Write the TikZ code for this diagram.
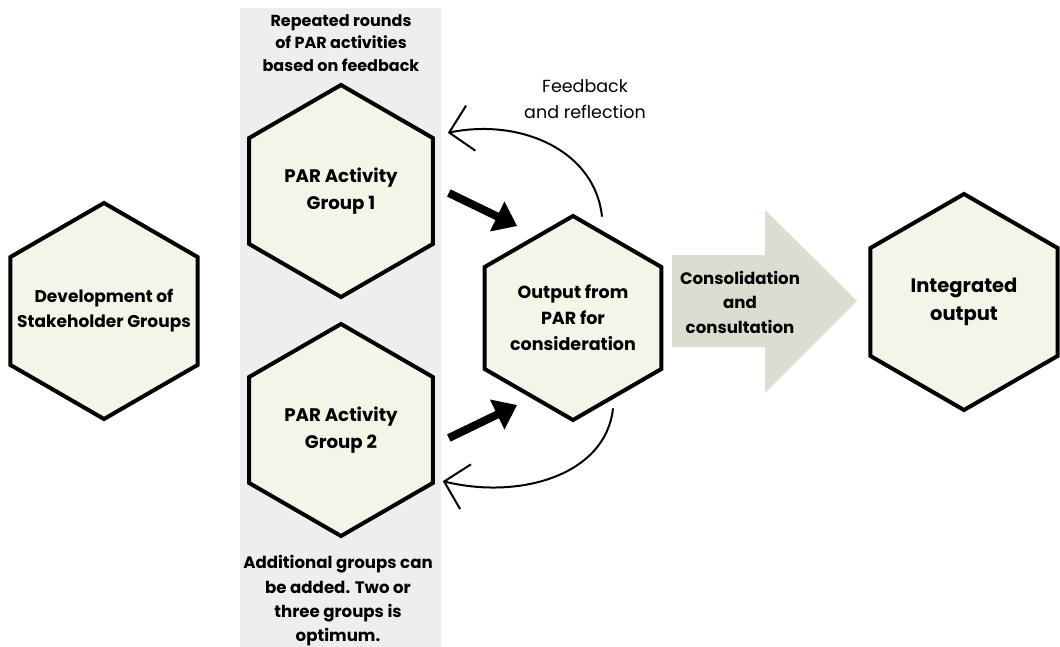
\documentclass[tikz,border=0pt]{standalone}
\usepackage{fontspec}
\setmainfont{Poppins}
\usetikzlibrary{shapes.geometric,arrows.meta,calc}
\definecolor{hexfill}{HTML}{F4F4E9}
\definecolor{panelgray}{HTML}{EEEEEE}
\definecolor{consolfill}{HTML}{DCDCD0}
\tikzset{
  hexbox/.style={regular polygon, regular polygon sides=6, shape border rotate=30,
    draw, line width=4pt, fill=hexfill, inner sep=-60pt, align=center,
    font=\bfseries\fontsize{18}{26}\selectfont},
  fatarrow/.style={line width=8pt, -{Triangle[length=22pt,width=32pt]}},
  fback/.style={line width=2pt, -{Straight Barb[length=22pt,width=46pt,line width=2pt]}},
  notebox/.style={align=center, font=\bfseries\fontsize{16}{22.5}\selectfont}
}
\begin{document}
\begin{tikzpicture}[x=1pt, y=-1pt]
    \useasboundingbox (0,0) rectangle (1060,647);
    \fill[panelgray] (240,8) rectangle (441,647);
    % hexagons
    \node[hexbox, minimum size=216pt, font=\bfseries\fontsize{17}{25}\selectfont] (dev) at (104,311) {Development of\\Stakeholder Groups};
    \node[hexbox, minimum size=212pt, font=\bfseries\fontsize{18.2}{27}\selectfont] (par1) at (341,191) {PAR Activity\\Group 1};
    \node[hexbox, minimum size=212pt, font=\bfseries\fontsize{18.2}{27}\selectfont] (par2) at (341,430) {PAR Activity\\Group 2};
    \node[hexbox, minimum size=204pt, font=\bfseries\fontsize{17.5}{26}\selectfont] (out) at (573,318) {Output from\\PAR for\\consideration};
    \node[hexbox, minimum size=216pt, font=\bfseries\fontsize{19.5}{28}\selectfont] (integ) at (964,302) {Integrated\\output};
    % panel notes
    \node[notebox] (rounds) at (341,43) {Repeated rounds\\of PAR activities\\based on feedback};
    \node[notebox, font=\bfseries\fontsize{16.6}{24.3}\selectfont] (extra) at (338,601) {Additional groups can\\be added. Two or\\three groups is\\optimum.};
    % consolidation arrow
    \fill[consolfill] (672,255) -- (765,255) -- (765,210) -- (857,301) -- (765,393) -- (765,347) -- (672,347) -- cycle;
    \node[notebox, font=\bfseries\fontsize{16.6}{24.5}\selectfont] (consol) at (740,302) {Consolidation\\and\\consultation};
    % feedback loop
    \node[align=center, font=\fontsize{17.5}{26}\selectfont] (fbtext) at (585,99) {Feedback\\and reflection};
    \coordinate (fb1s) at ($(out.north)+(29,3)$);
    \coordinate (fb1e) at ($(par1.30)+(13,-4)$);
    \coordinate (fb2s) at ($(out.south)+(40,-14)$);
    \coordinate (fb2e) at ($(par2.-30)+(8,-3)$);
    \draw[fback] (fb1s) .. controls (595,150) and (520,118) .. (fb1e);
    \draw[fback] (fb2s) .. controls (606,475) and (520,500) .. (fb2e);
    % into output
    \coordinate (g1) at ($(par1.east)+(14,2)$);
    \coordinate (g2) at ($(par2.east)+(14,8)$);
    \draw[fatarrow] (g1) -- ($(out.center)+(-56,-92)$);
    \draw[fatarrow] (g2) -- ($(out.center)+(-56,87)$);
\end{tikzpicture}
\end{document}
